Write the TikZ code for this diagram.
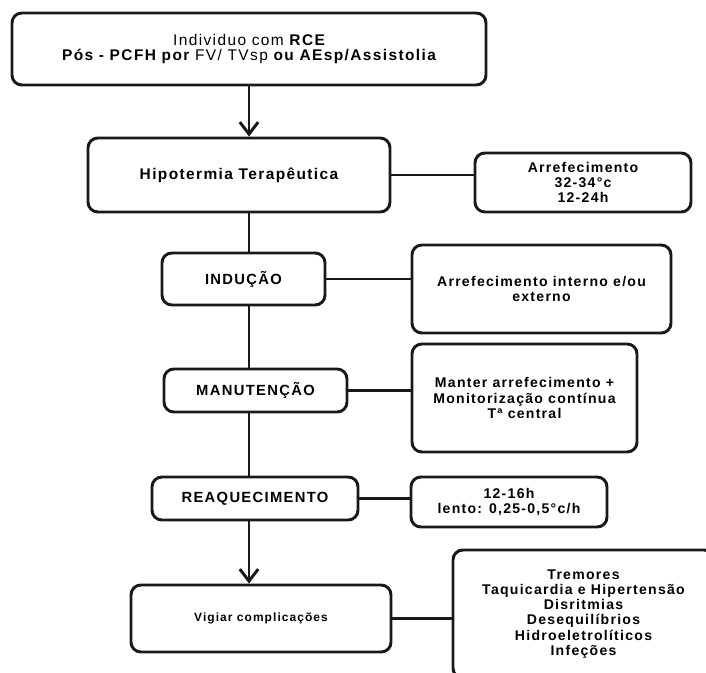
\documentclass[tikz,border=0pt]{standalone}
\usepackage{fontspec}
\setmainfont{Liberation Sans}[LetterSpace=9]
\usepackage{tikz}
\usetikzlibrary{arrows.meta}
\definecolor{flowframe}{RGB}{25,25,25}

\begin{document}
\begin{tikzpicture}[
  box/.style={
    draw=flowframe,
    line width=2.1pt,
    fill=white,
    rounded corners=7pt,
    align=center,
    inner sep=2pt
  },
  mainbox/.style={box, font=\fontsize{11}{10.7}\selectfont\bfseries},
  stepbox/.style={box, font=\fontsize{10.5}{11}\selectfont\bfseries},
  sidebox/.style={box, font=\fontsize{10}{10.8}\selectfont\bfseries},
  link/.style={line width=2.1pt, draw=flowframe},
  arrow/.style={link, -{Straight Barb[length=3mm,width=4.6mm]}}
]
\useasboundingbox (0,0) rectangle (17.65,-16.8);

\node[mainbox, minimum width=11.85cm, minimum height=1.8cm] (pcfhbox) at (6.225,-1.225)
  {{\mdseries Individuo com} RCE\\
   Pós - PCFH por {\mdseries FV/ TVsp} ou AEsp/Assistolia};
\node[mainbox, minimum width=7.55cm, minimum height=1.85cm] (hipobox) at (5.975,-4.375)
  {Hipotermia Terapêutica};
\node[sidebox, minimum width=5.4cm, minimum height=1.475cm] (arrefbox) at (14.575,-4.5625)
  {Arrefecimento\\32-34°c\\12-24h};

\node[stepbox, minimum width=4.075cm, minimum height=1.3cm] (indbox) at (6.0875,-6.975)
  {INDUÇÃO};
\node[sidebox, minimum width=6.475cm, minimum height=2.2cm] (indside) at (13.5375,-7.225)
  {Arrefecimento interno e/ou\\externo};

\node[stepbox, minimum width=4.575cm, minimum height=1.075cm] (manbox) at (6.3875,-9.7625)
  {MANUTENÇÃO};
\node[sidebox, minimum width=5.625cm, minimum height=2.7cm] (manside) at (13.1125,-9.95)
  {Manter arrefecimento +\\Monitorização contínua\\Tª central};

\node[stepbox, minimum width=5.15cm, minimum height=1.075cm] (reaqbox) at (6.375,-12.4625)
  {REAQUECIMENTO};
\node[sidebox, minimum width=4.9cm, minimum height=1.25cm] (reaqside) at (12.725,-12.55)
  {12-16h\\lento: 0,25-0,5°c/h};

\node[box, font=\fontsize{8.5}{10}\selectfont\bfseries, minimum width=6.5cm, minimum height=1.675cm] (vigbox) at (6.525,-15.4625)
  {Vigiar complicações};
\node[sidebox, minimum width=6.525cm, minimum height=3.2cm] (vigside) at (14.5875,-15.35)
  {Tremores\\Taquicardia e Hipertensão\\Disritmias\\Desequilíbrios\\Hidroeletrolíticos\\Infeções};

\draw[arrow] (pcfhbox.south) -- (pcfhbox.south |- hipobox.north);
\draw[link] (hipobox.south -| pcfhbox.south) -- (indbox.north -| pcfhbox.south);
\draw[link] (indbox.south -| pcfhbox.south) -- (manbox.north -| pcfhbox.south);
\draw[link] (manbox.south -| pcfhbox.south) -- (reaqbox.north -| pcfhbox.south);
\draw[arrow] (reaqbox.south -| pcfhbox.south) -- (vigbox.north -| pcfhbox.south);

\draw[link] (hipobox.east) -- (hipobox.east -| arrefbox.west);
\draw[link] (indbox.east) -- (indbox.east -| indside.west);
\draw[link] (manbox.east) -- (manbox.east -| manside.west);
\draw[link] (reaqbox.east) -- (reaqbox.east -| reaqside.west);
\draw[link] (vigbox.east) -- (vigbox.east -| vigside.west);
\end{tikzpicture}
\end{document}
